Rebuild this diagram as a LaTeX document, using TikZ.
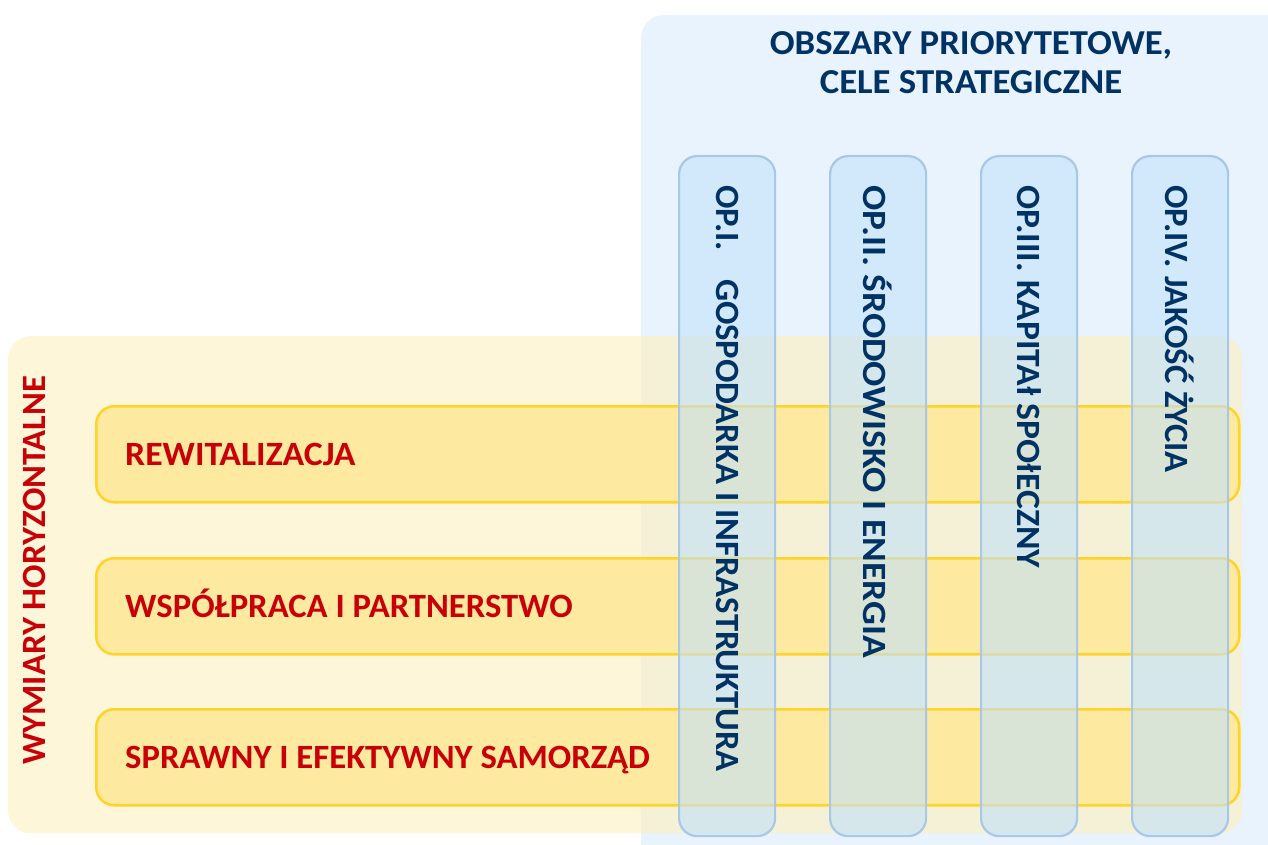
\documentclass[tikz,border=0pt]{standalone}
\usepackage{fontspec}
\setmainfont[FakeStretch=1.02]{Carlito}
\newfontfamily\widerfont[FakeStretch=1.05]{Carlito}
\newfontfamily\widestfont[FakeStretch=1.1]{Carlito}
\usetikzlibrary{positioning}

\definecolor{panelblue}{RGB}{233,243,253}
\definecolor{panelyellow}{RGB}{252,240,191}
\definecolor{barfill}{RGB}{253,233,160}
\definecolor{bardraw}{RGB}{254,212,40}
\definecolor{colfill}{RGB}{195,225,250}
\definecolor{coldraw}{RGB}{168,200,230}
\definecolor{navy}{RGB}{0,50,100}
\definecolor{wred}{RGB}{200,0,8}

\begin{document}
\begin{tikzpicture}[x=1pt,y=-1pt,
    panel/.style={anchor=north west,inner sep=0pt,rounded corners=22pt},
    bar/.style={anchor=north west,inner sep=0pt,rounded corners=18pt,fill=barfill,draw=bardraw,line width=2.5pt,minimum width=1143pt,minimum height=96pt},
    column/.style={anchor=north west,inner sep=0pt,rounded corners=18pt,fill=colfill,fill opacity=0.6,draw=coldraw,line width=2.2pt,minimum width=96pt,minimum height=680pt},
    bigtext/.style={inner sep=0pt,font=\fontsize{34}{39}\selectfont\bfseries},
    bartext/.style={bigtext,text=wred,anchor=base west},
    coltext/.style={bigtext,text=navy,rotate=-90,anchor=west}]
      \useasboundingbox (0,0) rectangle (1268,845);

      % panels
      \node[panel,fill=panelblue,minimum width=680pt,minimum height=880pt] (obszary) at (641,15) {};
      \node[panel,fill=panelyellow,fill opacity=0.6,minimum width=1234pt,minimum height=497pt] (wymiary) at (8,336) {};

      \node[inner sep=0pt,text=navy,align=center,font=\widerfont\fontsize{35}{39}\selectfont\bfseries] (tytul) at (971,63) {OBSZARY PRIORYTETOWE,\\CELE STRATEGICZNE};
      \node[bigtext,text=wred,rotate=90,anchor=west] (wh) at (34,765) {WYMIARY HORYZONTALNE};

      % wymiary horyzontalne
      \node[bar] (b1) at (95,405) {};
      \node[bar] (b2) at (95,557) {};
      \node[bar] (b3) at (95,708) {};

      \node[bartext] (t1) at ([xshift=30pt,yshift=-11pt]b1.west) {\widerfont REWITALIZACJA};
      \node[bartext] (t2) at ([xshift=30pt,yshift=-11pt]b2.west) {WSPÓŁPRACA I PARTNERSTWO};
      \node[bartext] (t3) at ([xshift=30pt,yshift=-11pt]b3.west) {SPRAWNY I EFEKTYWNY SAMORZĄD};

      % obszary priorytetowe
      \node[column] (op1) at (678,155) {};
      \node[column] (op2) at (829,155) {};
      \node[column] (op3) at (980,155) {};
      \node[column] (op4) at (1131,155) {};

      \node[coltext] (o1) at ([yshift=-30pt]op1.north) {OP.I.\hspace{28pt}GOSPODARKA I INFRASTRUKTURA};
      \node[coltext] (o2) at ([yshift=-30pt]op2.north) {\widestfont OP.II. ŚRODOWISKO I ENERGIA};
      \node[coltext] (o3) at ([yshift=-30pt]op3.north) {\widerfont OP.III. KAPITAł SPOłECZNY};
      \node[coltext] (o4) at ([yshift=-30pt]op4.north) {OP.IV. JAKOŚĆ ŻYCIA};

    \end{tikzpicture}
\end{document}
